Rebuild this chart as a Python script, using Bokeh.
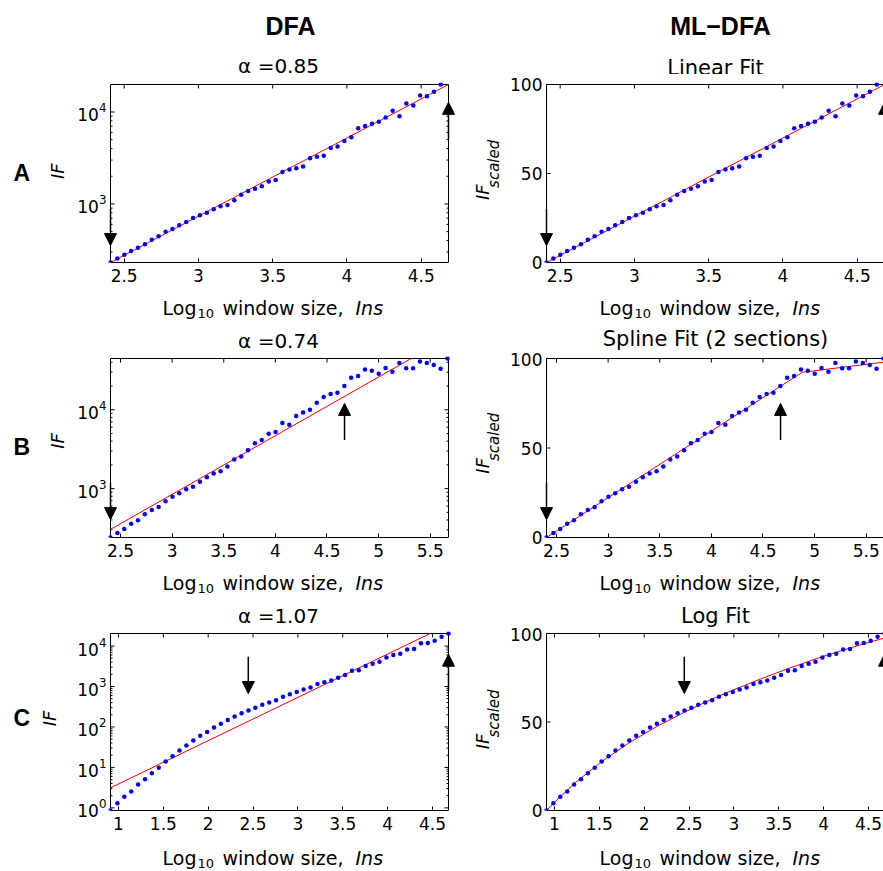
import math
from bokeh.plotting import figure
from bokeh.layouts import row, column
from bokeh.models import Range1d, FixedTicker, Label, Arrow, NormalHead
from bokeh.embed import file_html
from bokeh.resources import INLINE

# ---------------- data ----------------
# log10 window sizes
x_A = [2.408, 2.454, 2.501, 2.547, 2.593, 2.640, 2.686, 2.732, 2.779, 2.825,
       2.871, 2.918, 2.964, 3.010, 3.057, 3.103, 3.149, 3.196, 3.242, 3.288,
       3.335, 3.381, 3.427, 3.474, 3.520, 3.566, 3.613, 3.659, 3.705, 3.752,
       3.798, 3.844, 3.891, 3.937, 3.983, 4.030, 4.076, 4.122, 4.169, 4.215,
       4.261, 4.308, 4.354, 4.400, 4.447, 4.493, 4.539, 4.586, 4.632]
# scaled fluctuation (0..100), same points as the DFA panel on a normalised log axis
s_A = [0, 2.3, 4.3, 6.4, 8.3, 10.3, 12.8, 14.7, 17.3, 18.8,
       20.9, 22.7, 25.0, 26.5, 28.0, 29.9, 31.6, 32.3, 35.0, 38.0,
       40.2, 41.5, 42.9, 45.5, 46.4, 50.8, 52.3, 53.0, 53.9, 58.6,
       59.4, 60.0, 64.3, 65.2, 68.2, 70.3, 75.4, 76.7, 78.0, 79.1,
       81.4, 85.3, 82.1, 89.3, 88.2, 93.8, 93.4, 95.9, 100.0]

x_B = [2.403, 2.470, 2.536, 2.603, 2.669, 2.736, 2.803, 2.869, 2.936, 3.003,
       3.069, 3.136, 3.202, 3.269, 3.336, 3.402, 3.469, 3.535, 3.602, 3.669,
       3.735, 3.802, 3.868, 3.935, 4.002, 4.068, 4.135, 4.201, 4.268, 4.335,
       4.401, 4.468, 4.535, 4.601, 4.668, 4.734, 4.801, 4.868, 4.934, 5.001,
       5.067, 5.134, 5.201, 5.267, 5.334, 5.400, 5.467, 5.534, 5.600, 5.667]
s_B = [0, 2.5, 4.7, 7.7, 9.6, 13.0, 15.3, 17.0, 20.2, 22.8,
       24.7, 27.0, 28.3, 31.1, 33.6, 35.8, 37.0, 39.6, 43.6, 45.3,
       48.7, 52.6, 54.5, 57.9, 58.9, 64.0, 63.0, 67.9, 69.8, 71.3,
       75.3, 78.5, 80.2, 80.8, 84.7, 89.2, 90.2, 93.8, 93.2, 91.5,
       94.7, 92.6, 97.5, 94.5, 94.5, 98.3, 97.5, 96.4, 94.3, 100.0]

x_C = [0.911, 0.988, 1.065, 1.142, 1.219, 1.296, 1.372, 1.449, 1.526, 1.603,
       1.680, 1.757, 1.834, 1.911, 1.988, 2.065, 2.141, 2.218, 2.295, 2.372,
       2.449, 2.526, 2.603, 2.680, 2.757, 2.834, 2.910, 2.987, 3.064, 3.141,
       3.218, 3.295, 3.372, 3.449, 3.526, 3.603, 3.679, 3.756, 3.833, 3.910,
       3.987, 4.064, 4.141, 4.218, 4.295, 4.372, 4.448, 4.525, 4.602, 4.679]
s_C = [0, 4.1, 7.7, 10.7, 14.7, 17.7, 21.1, 24.1, 27.7, 30.7,
       33.9, 36.7, 39.5, 42.2, 44.4, 46.9, 49.0, 51.2, 53.1, 55.0,
       56.5, 58.0, 59.7, 61.0, 62.3, 64.2, 65.7, 67.0, 68.4, 69.5,
       71.4, 72.5, 73.4, 75.0, 76.6, 78.9, 79.3, 81.7, 82.9, 84.0,
       86.4, 87.9, 88.5, 91.0, 91.3, 94.5, 94.7, 95.9, 98.1, 100.0]

# log10 of smallest / largest fluctuation in each row
logF_min = [2.363, 2.380, -0.065]
logF_max = [4.299, 4.650, 4.310]

# DFA straight-line fits (log10 window size, fluctuation)
dfa_fit_x = [[2.408, 4.684], [2.403, 5.316], [0.911, 4.475]]
dfa_fit_F = [[230.7, 19910.0], [304.0, 44670.0], [3.13, 20420.0]]

# ML-DFA fits (scaled)
ml_fit_x = [[2.408, 4.684],
            [2.403, 4.880, 5.677],
            [0.911, 1.004, 1.235, 1.536, 1.834, 2.139, 2.448, 2.753, 2.983, 3.292,
             3.601, 3.984, 4.371, 4.679]]
ml_fit_y = [[0, 100],
            [0, 92.3, 98.0],
            [0, 4.8, 15.9, 28.0, 38.3, 47.4, 55.5, 62.9, 67.9, 74.2,
             80.1, 86.9, 93.0, 97.5]]

# arrows: (x, scaled tail, scaled tip)
arrows = [[(2.408, 30.0, 9.5), (4.684, 69.3, 90.0)],
          [(2.403, 30.7, 10.0), (4.670, 54.5, 74.9)],
          [(2.447, 86.8, 66.1), (4.679, 67.6, 88.3)]]

row_letters = ["A", "B", "C"]
alpha_titles = ["\u03b1 =0.85", "\u03b1 =0.74", "\u03b1 =1.07"]
ml_titles = ["Linear Fit", "Spline Fit (2 sections)", "Log Fit"]
col_headers = ["DFA", "ML\u2212DFA"]

x_ticks = [[2.5, 3, 3.5, 4, 4.5],
           [2.5, 3, 3.5, 4, 4.5, 5, 5.5],
           [1, 1.5, 2, 2.5, 3, 3.5, 4, 4.5]]
x_tick_labels = [["2.5", "3", "3.5", "4", "4.5"],
                 ["2.5", "3", "3.5", "4", "4.5", "5", "5.5"],
                 ["1", "1.5", "2", "2.5", "3", "3.5", "4", "4.5"]]
log_major = [[1e3, 1e4], [1e3, 1e4], [1, 10, 100, 1e3, 1e4]]
log_minor = [[300, 400, 500, 600, 700, 800, 900, 2000, 3000, 4000, 5000, 6000, 7000, 8000, 9000],
             [300, 400, 500, 600, 700, 800, 900, 2000, 3000, 4000, 5000, 6000, 7000, 8000, 9000,
              20000, 30000, 40000],
             [2, 3, 4, 5, 6, 7, 8, 9, 20, 30, 40, 50, 60, 70, 80, 90,
              200, 300, 400, 500, 600, 700, 800, 900, 2000, 3000, 4000, 5000, 6000, 7000, 8000, 9000]]
lin_ticks = [0, 50, 100]

# x extent of the axes box of each row
x_lim = [(2.408, 4.684), (2.403, 5.677), (0.911, 4.679)]

# ---------------- layout (pixels) ----------------
FONT = "DejaVu Sans"
BOLD = "Liberation Sans"
W = 883
BOX_W = 338            # axes box width
PAD_X = 8              # extra frame room left/right of the box (keeps edge arrows whole)
PAD_TOP = 2
box_h = [178, 179, 177]
b_top = [8, 4, 4]
B_BOT = 26
strip_h = [74, 64, 64, 34]
row_top = [74, 352, 627]
L0_W, PL_BL, PL_W, M_W = 68, 34, 392, 42
PR_BL = 36
PR_W = W - L0_W - PL_W - M_W
PR_VIS = PR_W - PR_BL - PAD_X   # visible box width of right panels

LEFT_X0 = 162                   # x label start (left column)
RIGHT_X0 = 599                  # x label start (right column)


def to_F(i, s):
    lo, hi = logF_min[i], logF_max[i]
    return 10 ** (lo + s / 100.0 * (hi - lo))


def text_fig(w, h):
    p = figure(width=w, height=h, x_range=Range1d(0, w), y_range=Range1d(0, h),
               min_border=0, x_axis_location=None, y_axis_location=None,
               output_backend="svg", toolbar_location=None)
    p.outline_line_color = None
    p.background_fill_color = "white"
    p.border_fill_color = "white"
    p.xgrid.visible = False
    p.ygrid.visible = False
    return p


def put(p, h, x, y_top, text, size, font=FONT, style="normal", align="left",
        baseline="alphabetic", angle=0.0):
    # y_top: pixels from the top of the small text figure of height h
    p.add_layout(Label(x=x, y=h - y_top, text=text, text_font=font, text_font_size=f"{size}px",
                       text_font_style=style, text_align=align, text_baseline=baseline,
                       angle=angle, text_color="black"))


def put_vertical(p, h, cx, cy_top, text, size):
    # rotated text, reading upwards, centred on (cx, cy_top);
    # the rotated box lands about 0.58 em higher than its anchor, so compensate
    put(p, h, cx, cy_top + 0.58 * size, text, size, style="italic", align="center",
        baseline="middle", angle=math.pi / 2)


def put_xlabel(p, h, x0, y):
    put(p, h, x0, y, "Log", 19)
    put(p, h, x0 + 35, y + 6, "10", 13)
    put(p, h, x0 + 60, y, "window size,", 19)
    put(p, h, x0 + 193, y, "Ins", 19, style="italic")


def style_axis(ax):
    ax.axis_line_color = "black"
    ax.axis_line_width = 1
    ax.major_tick_in = 4
    ax.major_tick_out = 0
    ax.major_tick_line_color = "black"
    ax.minor_tick_in = 0
    ax.minor_tick_out = 0
    ax.minor_tick_line_color = None
    ax.major_label_text_font = FONT
    ax.major_label_text_color = "black"
    ax.major_label_text_font_size = "17px"


def plot_fig(i, side):
    xmin, xmax = x_lim[i]
    u = (xmax - xmin) / BOX_W
    log = side == "L"
    if log:
        lo, hi = logF_min[i], logF_max[i]
        ymin, ymax = 10 ** lo, 10 ** hi
        ytop = 10 ** (hi + PAD_TOP * (hi - lo) / box_h[i])
        ydown = lambda n: ymax * 10 ** (-n * (hi - lo) / box_h[i])
        maj, mnr = log_major[i], log_minor[i]
    else:
        ymin, ymax = 0.0, 100.0
        ytop = ymax + PAD_TOP * 100.0 / box_h[i]
        ydown = lambda n: ymax - n * 100.0 / box_h[i]
        maj, mnr = lin_ticks, []
    if side == "L":
        width, bl, br = PL_W, PL_BL, 4
        xr = (xmin - PAD_X * u, xmax + PAD_X * u)
        xend = xmax
    else:
        width, bl, br = PR_W, PR_BL, 0
        xr = (xmin - PAD_X * u, xmin + PR_VIS * u)
        xend = xr[1]
    p = figure(width=width, height=b_top[i] + box_h[i] + PAD_TOP + B_BOT,
               x_range=Range1d(*xr), y_range=Range1d(ymin, ytop),
               y_axis_type="log" if log else "linear",
               min_border_left=bl, min_border_right=br, min_border_top=b_top[i],
               min_border_bottom=B_BOT, output_backend="svg", toolbar_location=None)
    p.xgrid.visible = False
    p.ygrid.visible = False
    p.outline_line_color = None
    p.background_fill_color = "white"
    p.border_fill_color = "white"
    # bottom axis (box bottom = frame bottom)
    xa = p.xaxis[0]
    xa.ticker = FixedTicker(ticks=x_ticks[i])
    xa.major_label_overrides = {float(t): l for t, l in zip(x_ticks[i], x_tick_labels[i])}
    xa.bounds = (xmin, xend)
    style_axis(xa)
    xa.major_label_standoff = 6
    # left axis: labels only (the frame edge sits PAD_X px left of the box edge)
    ya = p.yaxis[0]
    ya.ticker = FixedTicker(ticks=maj, minor_ticks=mnr) if mnr else FixedTicker(ticks=maj)
    style_axis(ya)
    ya.axis_line_color = None
    ya.major_tick_in = 0
    ya.major_label_standoff = 4 - PAD_X
    k = dict(line_color="black", line_width=1)
    # box edges
    p.segment(x0=[xmin], y0=[ymin], x1=[xmin], y1=[ymax], **k)
    p.segment(x0=[xmin], y0=[ymax], x1=[xend], y1=[ymax], **k)
    # inward ticks: left, top
    p.segment(x0=[xmin] * len(maj), y0=maj, x1=[xmin + 4 * u] * len(maj), y1=maj, **k)
    if mnr:
        p.segment(x0=[xmin] * len(mnr), y0=mnr, x1=[xmin + 2 * u] * len(mnr), y1=mnr, **k)
    p.segment(x0=x_ticks[i], y0=[ymax] * len(x_ticks[i]), x1=x_ticks[i],
              y1=[ydown(4)] * len(x_ticks[i]), **k)
    if side == "L":
        p.segment(x0=[xmax], y0=[ymin], x1=[xmax], y1=[ymax], **k)
        p.segment(x0=[xmax] * len(maj), y0=maj, x1=[xmax - 4 * u] * len(maj), y1=maj, **k)
        p.segment(x0=[xmax] * len(mnr), y0=mnr, x1=[xmax - 2 * u] * len(mnr), y1=mnr, **k)
    return p


def add_arrows(p, i, conv):
    for (xa, st, sp) in arrows[i]:
        p.add_layout(Arrow(end=NormalHead(size=12, fill_color="black", line_color="black", line_width=1),
                           x_start=xa, y_start=conv(st), x_end=xa, y_end=conv(sp),
                           line_color="black", line_width=1.5))


# ---------------- strips of text ----------------
strips = [text_fig(W, h) for h in strip_h]
put(strips[0], strip_h[0], 290, 25, col_headers[0], 25, font=BOLD, style="bold", align="center")
put(strips[0], strip_h[0], 720, 25, col_headers[1], 25, font=BOLD, style="bold", align="center")
alpha_y = [65, 52, 52]
ml_y = [67, 50, 52]
for i in range(3):
    put(strips[i], strip_h[i], 278, alpha_y[i], alpha_titles[i], 20, align="center")
    put(strips[i], strip_h[i], 715, ml_y[i], ml_titles[i], 21, align="center")
xlab_y = [19, 19, 21]
for i in range(3):
    put_xlabel(strips[i + 1], strip_h[i + 1], LEFT_X0, xlab_y[i])
    put_xlabel(strips[i + 1], strip_h[i + 1], RIGHT_X0, xlab_y[i])

# ---------------- plot rows ----------------
letter_pos = [(13, 182), (13, 457), (13, 728)]         # absolute page pixels
if_centre = [(57, 169), (57, 440), (49, 718)]
ifs_centre = [(482, 194), (482, 469), (482, 745)]      # "IF" of IF_scaled
sc_centre = [(493, 162), (493, 437), (493, 714)]       # "scaled" subscript
rows = []
for i in range(3):
    h = b_top[i] + box_h[i] + PAD_TOP + B_BOT
    t = row_top[i]
    l0 = text_fig(L0_W, h)
    put(l0, h, letter_pos[i][0], letter_pos[i][1] - t, row_letters[i], 23, font=BOLD, style="bold")
    put_vertical(l0, h, if_centre[i][0], if_centre[i][1] - t, "IF", 18)

    m = text_fig(M_W, h)
    x_m = L0_W + PL_W
    put_vertical(m, h, ifs_centre[i][0] - x_m, ifs_centre[i][1] - t, "IF", 18)
    put_vertical(m, h, sc_centre[i][0] - x_m, sc_centre[i][1] - t, "scaled", 15)

    xs = [x_A, x_B, x_C][i]
    ss = [s_A, s_B, s_C][i]

    pl = plot_fig(i, "L")
    pl.line(dfa_fit_x[i], dfa_fit_F[i], line_color="red", line_width=1)
    pl.scatter(xs, [to_F(i, s) for s in ss], size=4.5, fill_color="blue", line_color=None)
    add_arrows(pl, i, lambda s, i=i: to_F(i, s))

    pr = plot_fig(i, "R")
    pr.line(ml_fit_x[i], ml_fit_y[i], line_color="red", line_width=1)
    pr.scatter(xs, ss, size=4.5, fill_color="blue", line_color=None)
    add_arrows(pr, i, lambda s: s)

    rows.append(row(l0, pl, m, pr))

layout = column(strips[0], rows[0], strips[1], rows[1], strips[2], rows[2], strips[3])
open("out.html", "w").write(file_html(layout, INLINE, title="DFA vs ML-DFA"))
